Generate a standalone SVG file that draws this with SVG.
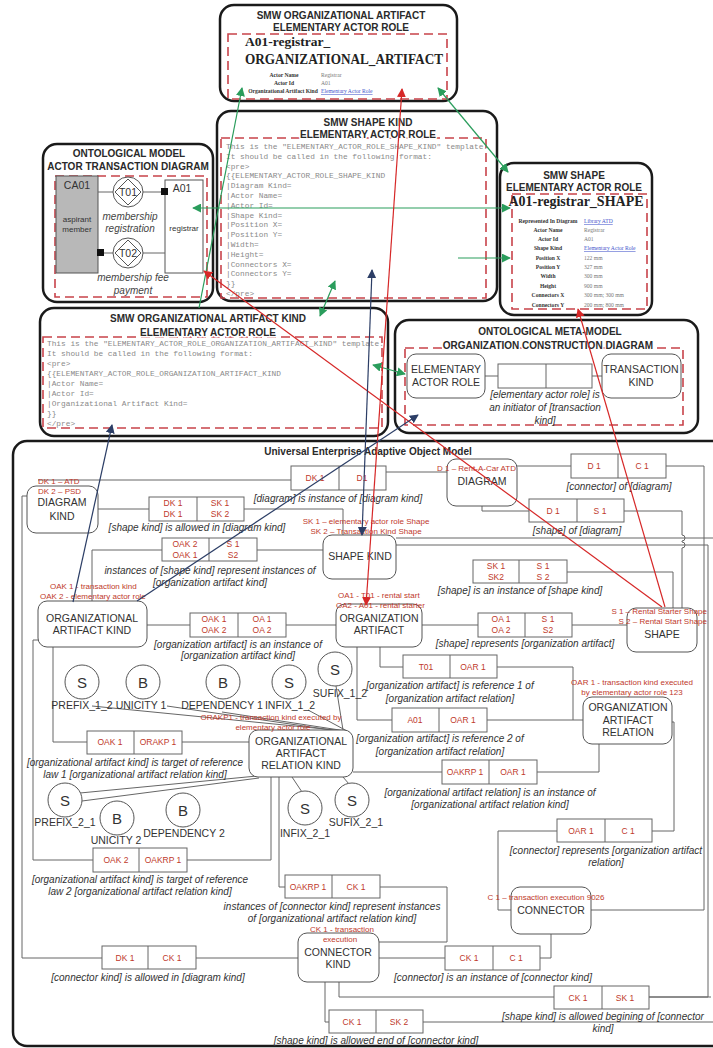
<svg xmlns="http://www.w3.org/2000/svg" width="713" height="1048" viewBox="0 0 713 1048">
<style>
.frame{fill:#fff;stroke:#1a1a1a;stroke-width:2.5}
.dash{fill:none;stroke:#c8434a;stroke-width:1.6;stroke-dasharray:9 5}
.ttl{font-family:"Liberation Sans",Arial,sans-serif;font-weight:bold;font-size:10px;fill:#2a2a2a;text-anchor:middle;paint-order:stroke;stroke:#fff;stroke-width:3px;stroke-linejoin:round}
.mono{font-family:"Liberation Mono","Courier New",monospace;font-size:7.8px;fill:#8a8a8a}
.node{fill:#fff;stroke:#555;stroke-width:1}
.nt{font-family:"Liberation Sans",Arial,sans-serif;font-size:10.5px;fill:#333;text-anchor:middle}
.rb{fill:#fff;stroke:#666;stroke-width:1}
.rt{font-family:"Liberation Sans",Arial,sans-serif;font-size:8.5px;fill:#c0392b;text-anchor:middle}
.lb{font-family:"Liberation Sans",Arial,sans-serif;font-size:10px;font-style:italic;fill:#333;text-anchor:middle}
.red{font-family:"Liberation Sans",Arial,sans-serif;font-size:8px;fill:#c0392b}
.cn{fill:none;stroke:#666;stroke-width:1}
.circ{fill:#fff;stroke:#555;stroke-width:1}
.ct{font-family:"Liberation Sans",Arial,sans-serif;font-size:15px;fill:#333;text-anchor:middle}
.cl{font-family:"Liberation Sans",Arial,sans-serif;font-size:10.5px;fill:#333;text-anchor:middle}
.g{stroke:#2a9d5c;stroke-width:1.2;fill:none}
.r{stroke:#d62828;stroke-width:1.2;fill:none}
.b{stroke:#2c3e66;stroke-width:1.2;fill:none}
.sb{font-family:"Liberation Serif","Times New Roman",serif;font-weight:bold;fill:#222}
.tk{font-family:"Liberation Serif","Times New Roman",serif;font-size:5.6px;font-weight:bold;fill:#333;text-anchor:middle}
.tv{font-family:"Liberation Serif","Times New Roman",serif;font-size:5.6px;fill:#777}
.lnk{fill:#4455cc;text-decoration:underline}
.sm{font-family:"Liberation Sans",Arial,sans-serif;font-size:8px;fill:#333;text-anchor:middle}
.it{font-family:"Liberation Sans",Arial,sans-serif;font-size:10px;font-style:italic;fill:#444;text-anchor:middle}
</style>
<defs>
<marker id="ag" viewBox="0 0 10 10" refX="9" refY="5" markerWidth="9" markerHeight="9" markerUnits="userSpaceOnUse" orient="auto-start-reverse"><path d="M0,0 L10,5 L0,10 z" fill="#2a9d5c"/></marker>
<marker id="ar" viewBox="0 0 10 10" refX="9" refY="5" markerWidth="9" markerHeight="9" markerUnits="userSpaceOnUse" orient="auto-start-reverse"><path d="M0,0 L10,5 L0,10 z" fill="#d62828"/></marker>
<marker id="ab" viewBox="0 0 10 10" refX="9" refY="5" markerWidth="9" markerHeight="9" markerUnits="userSpaceOnUse" orient="auto-start-reverse"><path d="M0,0 L10,5 L0,10 z" fill="#2c3e66"/></marker>
</defs>
<rect x="0" y="0" width="713" height="1048" fill="#fff"/>

<!-- SMW ORGANIZATIONAL ARTIFACT -->
<g id="smw-oa">
<rect class="frame" x="220" y="5" width="237" height="96" rx="14"/>
<rect class="dash" x="228" y="34" width="219" height="65"/>
<text class="ttl" x="341" y="19">SMW ORGANIZATIONAL ARTIFACT</text>
<text class="ttl" x="341" y="31">ELEMENTARY ACTOR ROLE</text>
<text class="sb" x="245" y="46" font-size="13.5">A01-registrar_</text>
<text class="sb" x="245" y="64" font-size="14" textLength="198" lengthAdjust="spacingAndGlyphs">ORGANIZATIONAL_ARTIFACT</text>
<text class="tk" x="284" y="77">Actor Name</text><text class="tv" x="321" y="77">Registrar</text>
<text class="tk" x="284" y="85">Actor Id</text><text class="tv" x="321" y="85">A01</text>
<text class="tk" x="283" y="93">Organizational Artifact Kind</text><text class="tv lnk" x="321" y="93">Elementary Actor Role</text>
</g>

<!-- ONTOLOGICAL MODEL -->
<g id="ontological-model">
<rect class="frame" x="43" y="144" width="170" height="158" rx="14"/>
<rect class="dash" x="55" y="176" width="152" height="121"/>
<text class="ttl" x="129" y="157">ONTOLOGICAL MODEL</text>
<text class="ttl" x="128" y="170">ACTOR TRANSACTION DIAGRAM</text>
<rect x="56" y="176" width="42" height="97" fill="#b8b8b8" stroke="#555"/>
<text class="nt" x="77" y="189" font-size="11">CA01</text>
<text class="sm" x="77" y="222">aspirant</text>
<text class="sm" x="77" y="232">member</text>
<rect x="165" y="180" width="38" height="93" fill="#fff" stroke="#555"/>
<text class="nt" x="182" y="192" font-size="11">A01</text>
<text class="sm" x="184" y="231">registrar</text>
<path class="cn" d="M98,192 H113 M143,192 H165 M104,253 H113 M143,253 H165"/>
<circle class="circ" cx="128" cy="192" r="15"/>
<polygon points="128,179 141,192 128,205 115,192" fill="none" stroke="#555"/>
<text class="nt" x="128" y="196">T01</text>
<circle class="circ" cx="128" cy="253" r="15"/>
<polygon points="128,240 141,253 128,266 115,253" fill="none" stroke="#555"/>
<text class="nt" x="128" y="257">T02</text>
<rect x="161" y="188" width="7" height="7" fill="#111"/>
<rect x="97" y="249" width="7" height="7" fill="#111"/>
<text class="it" x="130" y="220">membership</text>
<text class="it" x="130" y="232">registration</text>
<text class="it" x="133" y="281">membership fee</text>
<text class="it" x="133" y="294">payment</text>
</g>

<!-- SMW SHAPE KIND -->
<g id="smw-shape-kind">
<rect class="frame" x="217" y="111" width="280" height="190" rx="14"/>
<rect class="dash" x="221" y="138" width="265" height="160"/>
<text class="ttl" x="368" y="126">SMW SHAPE KIND</text>
<text class="ttl" x="368" y="138">ELEMENTARY ACTOR ROLE</text>
<text class="mono" x="226" y="149">This is the "ELEMENTARY_ACTOR_ROLE_SHAPE_KIND" template.</text>
<text class="mono" x="226" y="158.8">It should be called in the following format:</text>
<text class="mono" x="226" y="168.6">&lt;pre&gt;</text>
<text class="mono" x="226" y="178.4">{{ELEMENTARY_ACTOR_ROLE_SHAPE_KIND</text>
<text class="mono" x="226" y="188.2">|Diagram Kind=</text>
<text class="mono" x="226" y="198">|Actor Name=</text>
<text class="mono" x="226" y="207.8">|Actor Id=</text>
<text class="mono" x="226" y="217.6">|Shape Kind=</text>
<text class="mono" x="226" y="227.4">|Position X=</text>
<text class="mono" x="226" y="237.2">|Position Y=</text>
<text class="mono" x="226" y="247">|Width=</text>
<text class="mono" x="226" y="256.8">|Height=</text>
<text class="mono" x="226" y="266.6">|Connectors X=</text>
<text class="mono" x="226" y="276.4">|Connectors Y=</text>
<text class="mono" x="226" y="286.2">}}</text>
<text class="mono" x="226" y="296">&lt;/pre&gt;</text>
</g>

<!-- SMW SHAPE -->
<g id="smw-shape">
<rect class="frame" x="500" y="163" width="152" height="152" rx="14"/>
<rect class="dash" x="512" y="194" width="135" height="115"/>
<text class="ttl" x="574" y="179">SMW SHAPE</text>
<text class="ttl" x="574" y="191">ELEMENTARY ACTOR ROLE</text>
<text class="sb" x="576" y="206" font-size="14" text-anchor="middle">A01-registrar_SHAPE</text>
<text class="tk" x="548" y="223">Represented In Diagram</text><text class="tv lnk" x="584" y="223">Library ATD</text>
<text class="tk" x="548" y="232">Actor Name</text><text class="tv" x="584" y="232">Registrar</text>
<text class="tk" x="548" y="241">Actor Id</text><text class="tv" x="584" y="241">A01</text>
<text class="tk" x="548" y="250">Shape Kind</text><text class="tv lnk" x="584" y="250">Elementary Actor Role</text>
<text class="tk" x="548" y="260">Position X</text><text class="tv" x="584" y="260">122 mm</text>
<text class="tk" x="548" y="269">Position Y</text><text class="tv" x="584" y="269">327 mm</text>
<text class="tk" x="548" y="278">Width</text><text class="tv" x="584" y="278">300 mm</text>
<text class="tk" x="548" y="288">Height</text><text class="tv" x="584" y="288">900 mm</text>
<text class="tk" x="548" y="297">Connectors X</text><text class="tv" x="584" y="297">300 mm; 300 mm</text>
<text class="tk" x="548" y="307">Connectors Y</text><text class="tv" x="584" y="307">200 mm; 800 mm</text>
</g>

<!-- SMW ORGANIZATIONAL ARTIFACT KIND -->
<g id="smw-oak">
<rect class="frame" x="40" y="308" width="348" height="128" rx="14"/>
<rect class="dash" x="43" y="337" width="339" height="91"/>
<text class="ttl" x="208" y="322">SMW ORGANIZATIONAL ARTIFACT KIND</text>
<text class="ttl" x="208" y="336">ELEMENTARY ACTOR ROLE</text>
<text class="mono" x="47" y="346">This is the "ELEMENTARY_ACTOR_ROLE_ORGANIZATION_ARTIFACT_KIND" template.</text>
<text class="mono" x="47" y="356">It should be called in the following format:</text>
<text class="mono" x="47" y="366">&lt;pre&gt;</text>
<text class="mono" x="47" y="376">{{ELEMENTARY_ACTOR_ROLE_ORGANIZATION_ARTIFACT_KIND</text>
<text class="mono" x="47" y="386">|Actor Name=</text>
<text class="mono" x="47" y="396">|Actor Id=</text>
<text class="mono" x="47" y="406">|Organizational Artifact Kind=</text>
<text class="mono" x="47" y="416">}}</text>
<text class="mono" x="47" y="426">&lt;/pre&gt;</text>
</g>

<!-- ONTOLOGICAL META-MODEL -->
<g id="meta-model">
<rect class="frame" x="395" y="320" width="303" height="113" rx="14"/>
<rect class="dash" x="405" y="348" width="278" height="77"/>
<text class="ttl" x="550" y="335">ONTOLOGICAL META-MODEL</text>
<text class="ttl" x="548" y="349">ORGANIZATION CONSTRUCTION  DIAGRAM</text>
<path class="cn" d="M485,376 H498 M592,376 H602"/>
<rect class="node" x="407" y="354" width="78" height="44" rx="9"/>
<text class="nt" x="446" y="373">ELEMENTARY</text>
<text class="nt" x="446" y="386">ACTOR ROLE</text>
<rect class="rb" x="498" y="364" width="94" height="24"/>
<line class="cn" x1="546" y1="364" x2="546" y2="388"/>
<rect class="node" x="602" y="354" width="79" height="44" rx="9"/>
<text class="nt" x="641" y="373">TRANSACTION</text>
<text class="nt" x="641" y="386">KIND</text>
<text class="lb" x="545" y="398">[elementary actor role] is</text>
<text class="lb" x="545" y="411">an initiator of [transaction</text>
<text class="lb" x="545" y="424">kind]</text>
</g>

<!-- UNIVERSAL ENTERPRISE ADAPTIVE OBJECT MODEL -->
<g id="ueaom">
<rect class="frame" x="13" y="441" width="730" height="605" rx="14"/>
<text class="ttl" x="368" y="455" font-size="10.5">Universal Enterprise Adaptive Object Model</text>
</g>

<g id="connectors">
<path class="cn" d="M38,480 H291"/>
<path class="cn" d="M386,472 H447"/>
<path class="cn" d="M27,496 H22 V958 H102"/>
<path class="cn" d="M98,509 H149"/>
<path class="cn" d="M244,509 H343 V535"/>
<path class="cn" d="M162,550 H92 V601"/>
<path class="cn" d="M257,550 H323"/>
<path class="cn" d="M517,466 H571"/>
<path class="cn" d="M666,466 H704 V910 H591"/>
<path class="cn" d="M482,506 V511 H529"/>
<path class="cn" d="M624,511 H682 V535 a3,3 0 0 1 0,6 V542 a3,3 0 0 1 0,6 V608"/>
<path class="cn" d="M396,538 H713"/>
<path class="cn" d="M396,545 H708 V997 H649"/>
<path class="cn" d="M567,572 H673 V608"/>
<path class="cn" d="M147,625 H190 M286,625 H336"/>
<path class="cn" d="M422,625 H478 M572,625 H627"/>
<path class="cn" d="M380,647 V667 H403"/>
<path class="cn" d="M497,667 H573 V720"/>
<path class="cn" d="M357,647 V720 H392 M487,720 H583"/>
<path class="cn" d="M353,772 H442 M537,772 H599 V744"/>
<path class="cn" d="M53,647 V742 H87 M182,742 H249"/>
<path class="cn" d="M38,640 H33 V860 H93"/>
<path class="cn" d="M187,860 H271 V777"/>
<path class="cn" d="M279,777 V887 H285"/>
<path class="cn" d="M380,887 H447 V942 H379"/>
<path class="cn" d="M196,958 H298"/>
<path class="cn" d="M379,958 H445 M540,958 H551 V934"/>
<path class="cn" d="M672,722 H674 V831 H652 M557,831 H498 V910 H511"/>
<path class="cn" d="M339,982 V997 H554 M649,997 H711"/>
<path class="cn" d="M325,982 V1022 H329 M423,1022 H713"/>
<path class="cn" d="M92,706 L345,731 M167,706 L345,732 M222,712 L346,731 M308,710 L347,731 M336,686 L343,730"/>
<path class="cn" d="M257,776 L80,793 M259,778 L82,801 M292,777 L302,792 M343,777 L349,784"/>
</g>

<!-- nodes -->
<g id="diagram-kind">
<rect class="node" x="27" y="486" width="71" height="47" rx="9"/>
<text class="nt" x="62" y="506">DIAGRAM</text>
<text class="nt" x="62" y="520">KIND</text>
<text class="red" x="38" y="484">DK 1 – ATD</text>
<text class="red" x="38" y="494">DK 2 – PSD</text>
</g>
<g id="diagram">
<rect class="node" x="447" y="459" width="70" height="47" rx="9"/>
<text class="nt" x="482" y="485">DIAGRAM</text>
<text class="red" x="437" y="471">D 1 – Rent-A-Car ATD</text>
</g>
<g id="shape-kind">
<rect class="node" x="323" y="535" width="73" height="44" rx="9"/>
<text class="nt" x="360" y="560">SHAPE KIND</text>
<text class="red" x="366" y="524" text-anchor="middle">SK 1 – elementary actor role Shape</text>
<text class="red" x="366" y="534" text-anchor="middle">SK 2 – Transaction Kind Shape</text>
</g>
<g id="organizational-artifact-kind">
<rect class="node" x="38" y="601" width="109" height="46" rx="9"/>
<text class="nt" x="92" y="622">ORGANIZATIONAL</text>
<text class="nt" x="92" y="634">ARTIFACT KIND</text>
<text class="red" x="50" y="589">OAK 1 - transaction kind</text>
<text class="red" x="40" y="599">OAK 2 - elementary actor role</text>
</g>
<g id="organization-artifact">
<rect class="node" x="336" y="604" width="86" height="43" rx="9"/>
<text class="nt" x="379" y="622">ORGANIZATION</text>
<text class="nt" x="379" y="634">ARTIFACT</text>
<text class="red" x="338" y="598">OA1 - T01 - rental start</text>
<text class="red" x="336" y="608">OA2 - A01 - rental starter</text>
</g>
<g id="shape">
<rect class="node" x="627" y="608" width="70" height="44" rx="9"/>
<text class="nt" x="662" y="638">SHAPE</text>
<text class="red" x="707" y="614" text-anchor="end">S 1 – Rental Starter Shape</text>
<text class="red" x="707" y="624" text-anchor="end">S 2 – Rental Start Shape</text>
</g>
<g id="organization-artifact-relation">
<rect class="node" x="583" y="697" width="89" height="47" rx="9"/>
<text class="nt" x="628" y="711">ORGANIZATION</text>
<text class="nt" x="628" y="724">ARTIFACT</text>
<text class="nt" x="628" y="736">RELATION</text>
<text class="red" x="632" y="685" text-anchor="middle">OAR 1 - transaction kind executed</text>
<text class="red" x="632" y="695" text-anchor="middle">by elementary actor role 123</text>
</g>
<g id="organizational-artifact-relation-kind">
<rect class="node" x="249" y="730" width="104" height="47" rx="9"/>
<text class="nt" x="301" y="745">ORGANIZATIONAL</text>
<text class="nt" x="301" y="757">ARTIFACT</text>
<text class="nt" x="301" y="769">RELATION KIND</text>
<text class="red" x="271" y="720" text-anchor="middle">ORAKP1 - transaction kind executed by</text>
<text class="red" x="273" y="730" text-anchor="middle">elementary actor role</text>
</g>
<g id="connector-kind">
<rect class="node" x="298" y="933" width="81" height="49" rx="9"/>
<text class="nt" x="338" y="956">CONNECTOR</text>
<text class="nt" x="338" y="968">KIND</text>
<text class="red" x="342" y="932" text-anchor="middle">CK 1 - transaction</text>
<text class="red" x="340" y="942" text-anchor="middle">execution</text>
</g>
<g id="connector">
<rect class="node" x="511" y="887" width="80" height="47" rx="9"/>
<text class="nt" x="551" y="914">CONNECTOR</text>
<text class="red" x="546" y="900" text-anchor="middle">C 1 – transaction execution 9026</text>
</g>

<!-- circles -->
<g id="prefix-1-2"><circle class="circ" cx="82" cy="682" r="17"/><text class="ct" x="82" y="688">S</text><text class="cl" x="82" y="709">PREFIX_1_2</text></g>
<g id="unicity-1"><circle class="circ" cx="143" cy="682" r="17"/><text class="ct" x="143" y="688">B</text><text class="cl" x="141" y="709">UNICITY 1</text></g>
<g id="dependency-1"><circle class="circ" cx="223" cy="682" r="17"/><text class="ct" x="223" y="688">B</text><text class="cl" x="222" y="709">DEPENDENCY 1</text></g>
<g id="infix-1-2"><circle class="circ" cx="289" cy="682" r="17"/><text class="ct" x="289" y="688">S</text><text class="cl" x="290" y="709">INFIX_1_2</text></g>
<g id="sufix-1-2"><circle class="circ" cx="335" cy="669" r="17"/><text class="ct" x="335" y="675">S</text><text class="cl" x="340" y="697">SUFIX_1_2</text></g>
<g id="prefix-2-1"><circle class="circ" cx="65" cy="800" r="17"/><text class="ct" x="65" y="806">S</text><text class="cl" x="65" y="826">PREFIX_2_1</text></g>
<g id="unicity-2"><circle class="circ" cx="117" cy="818" r="17"/><text class="ct" x="117" y="824">B</text><text class="cl" x="116" y="844">UNICITY 2</text></g>
<g id="dependency-2"><circle class="circ" cx="183" cy="810" r="17"/><text class="ct" x="183" y="816">B</text><text class="cl" x="184" y="837">DEPENDENCY 2</text></g>
<g id="infix-2-1"><circle class="circ" cx="305" cy="808" r="17"/><text class="ct" x="305" y="814">S</text><text class="cl" x="305" y="837">INFIX_2_1</text></g>
<g id="sufix-2-1"><circle class="circ" cx="352" cy="800" r="17"/><text class="ct" x="352" y="806">S</text><text class="cl" x="356" y="826">SUFIX_2_1</text></g>

<!-- relation boxes -->
<g id="rel-diagram-instance"><rect class="rb" x="291" y="466" width="95" height="24"/><line class="cn" x1="339" y1="466" x2="339" y2="490"/><text class="rt" x="315" y="481">DK 1</text><text class="rt" x="362" y="481">D1</text><text class="lb" x="338" y="502">[diagram] is instance of [diagram kind]</text></g>
<g id="rel-shape-kind-allowed"><rect class="rb" x="149" y="497" width="95" height="24"/><line class="cn" x1="197" y1="497" x2="197" y2="521"/><text class="rt" x="173" y="506">DK 1</text><text class="rt" x="173" y="517">DK 1</text><text class="rt" x="220" y="506">SK 1</text><text class="rt" x="220" y="517">SK 2</text><text class="lb" x="197" y="531">[shape kind] is allowed in [diagram kind]</text></g>
<g id="rel-shape-kind-represent"><rect class="rb" x="162" y="538" width="95" height="23"/><line class="cn" x1="209" y1="538" x2="209" y2="561"/><text class="rt" x="185" y="547">OAK 2</text><text class="rt" x="185" y="558">OAK 1</text><text class="rt" x="233" y="547">S 1</text><text class="rt" x="233" y="558">S2</text><text class="lb" x="210" y="574">instances of [shape kind] represent instances of</text><text class="lb" x="210" y="586">[organization artifact kind]</text></g>
<g id="rel-oa-instance"><rect class="rb" x="190" y="613" width="96" height="24"/><line class="cn" x1="238" y1="613" x2="238" y2="637"/><text class="rt" x="214" y="622">OAK 1</text><text class="rt" x="214" y="633">OAK 2</text><text class="rt" x="262" y="622">OA 1</text><text class="rt" x="262" y="633">OA 2</text><text class="lb" x="238" y="648">[organization artifact] is an instance of</text><text class="lb" x="238" y="659">[organization artifact kind]</text></g>
<g id="rel-shape-instance"><rect class="rb" x="473" y="560" width="94" height="23"/><line class="cn" x1="519" y1="560" x2="519" y2="583"/><text class="rt" x="496" y="569">SK 1</text><text class="rt" x="496" y="580">SK2</text><text class="rt" x="543" y="569">S 1</text><text class="rt" x="543" y="580">S 2</text><text class="lb" x="520" y="594">[shape] is an instance of [shape kind]</text></g>
<g id="rel-connector-of-diagram"><rect class="rb" x="571" y="454" width="95" height="24"/><line class="cn" x1="618" y1="454" x2="618" y2="478"/><text class="rt" x="594" y="469">D 1</text><text class="rt" x="642" y="469">C 1</text><text class="lb" x="619" y="490">[connector] of [diagram]</text></g>
<g id="rel-shape-of-diagram"><rect class="rb" x="529" y="499" width="95" height="23"/><line class="cn" x1="577" y1="499" x2="577" y2="522"/><text class="rt" x="553" y="514">D 1</text><text class="rt" x="600" y="514">S 1</text><text class="lb" x="577" y="534">[shape] of [diagram]</text></g>
<g id="rel-shape-represents"><rect class="rb" x="478" y="613" width="94" height="24"/><line class="cn" x1="525" y1="613" x2="525" y2="637"/><text class="rt" x="501" y="622">OA 1</text><text class="rt" x="501" y="633">OA 2</text><text class="rt" x="548" y="622">S 1</text><text class="rt" x="548" y="633">S2</text><text class="lb" x="525" y="647">[shape] represents [organization artifact]</text></g>
<g id="rel-reference-1"><rect class="rb" x="403" y="655" width="94" height="23"/><line class="cn" x1="450" y1="655" x2="450" y2="678"/><text class="rt" x="426" y="670">T01</text><text class="rt" x="473" y="670">OAR 1</text><text class="lb" x="450" y="689">[organization artifact] is reference 1 of</text><text class="lb" x="450" y="702">[organization artifact relation]</text></g>
<g id="rel-reference-2"><rect class="rb" x="392" y="708" width="95" height="24"/><line class="cn" x1="439" y1="708" x2="439" y2="732"/><text class="rt" x="415" y="723">A01</text><text class="rt" x="463" y="723">OAR 1</text><text class="lb" x="440" y="742">[organization artifact] is reference 2 of</text><text class="lb" x="440" y="755">[organization artifact relation]</text></g>
<g id="rel-oar-instance"><rect class="rb" x="442" y="760" width="95" height="24"/><line class="cn" x1="489" y1="760" x2="489" y2="784"/><text class="rt" x="465" y="775">OAKRP 1</text><text class="rt" x="513" y="775">OAR 1</text><text class="lb" x="490" y="796">[organizational artifact relation] is an instance of</text><text class="lb" x="490" y="808">[organizational artifact relation kind]</text></g>
<g id="rel-target-law-1"><rect class="rb" x="87" y="731" width="95" height="23"/><line class="cn" x1="134" y1="731" x2="134" y2="754"/><text class="rt" x="110" y="745">OAK 1</text><text class="rt" x="158" y="745">ORAKP 1</text><text class="lb" x="135" y="766">[organizational artifact kind] is target of reference</text><text class="lb" x="135" y="778">law 1 [organizational artifact relation kind]</text></g>
<g id="rel-target-law-2"><rect class="rb" x="93" y="848" width="94" height="24"/><line class="cn" x1="139" y1="848" x2="139" y2="872"/><text class="rt" x="116" y="863">OAK 2</text><text class="rt" x="163" y="863">OAKRP 1</text><text class="lb" x="140" y="883">[organizational artifact kind] is target of reference</text><text class="lb" x="140" y="895">law 2 [organizational artifact relation kind]</text></g>
<g id="rel-connector-kind-represent"><rect class="rb" x="285" y="875" width="95" height="23"/><line class="cn" x1="332" y1="875" x2="332" y2="898"/><text class="rt" x="308" y="890">OAKRP 1</text><text class="rt" x="356" y="890">CK 1</text><text class="lb" x="332" y="910">instances of [connector kind] represent instances</text><text class="lb" x="332" y="922">of [organizational artifact relation kind]</text></g>
<g id="rel-connector-kind-allowed"><rect class="rb" x="102" y="946" width="94" height="23"/><line class="cn" x1="148" y1="946" x2="148" y2="969"/><text class="rt" x="125" y="961">DK 1</text><text class="rt" x="172" y="961">CK 1</text><text class="lb" x="148" y="981">[connector kind] is allowed in [diagram kind]</text></g>
<g id="rel-connector-instance"><rect class="rb" x="445" y="946" width="95" height="24"/><line class="cn" x1="493" y1="946" x2="493" y2="970"/><text class="rt" x="469" y="961">CK 1</text><text class="rt" x="516" y="961">C 1</text><text class="lb" x="493" y="981">[connector] is an instance of [connector kind]</text></g>
<g id="rel-connector-represents"><rect class="rb" x="557" y="819" width="95" height="23"/><line class="cn" x1="605" y1="819" x2="605" y2="842"/><text class="rt" x="581" y="834">OAR 1</text><text class="rt" x="628" y="834">C 1</text><text class="lb" x="606" y="854">[connector] represents [organization artifact</text><text class="lb" x="606" y="866">relation]</text></g>
<g id="rel-allowed-begining"><rect class="rb" x="554" y="986" width="95" height="23"/><line class="cn" x1="602" y1="986" x2="602" y2="1009"/><text class="rt" x="578" y="1001">CK 1</text><text class="rt" x="625" y="1001">SK 1</text><text class="lb" x="603" y="1020">[shape kind] is allowed begining of [connector</text><text class="lb" x="603" y="1032">kind]</text></g>
<g id="rel-allowed-end"><rect class="rb" x="329" y="1010" width="94" height="23"/><line class="cn" x1="376" y1="1010" x2="376" y2="1033"/><text class="rt" x="352" y="1025">CK 1</text><text class="rt" x="399" y="1025">SK 2</text><text class="lb" x="376" y="1044">[shape kind] is allowed end of [connector kind]</text></g>

<!-- cross-model links -->
<g id="links">
<path class="g" d="M193,208 H510" marker-start="url(#ag)" marker-end="url(#ag)"/>
<path class="g" d="M458,258 H510" marker-end="url(#ag)"/>
<path class="g" d="M438,88 L508,172" marker-start="url(#ag)" marker-end="url(#ag)"/>
<path class="g" d="M242,88 L199,308" marker-start="url(#ag)"/>
<path class="g" d="M335,281 L320,316" marker-start="url(#ag)" marker-end="url(#ag)"/>
<path class="g" d="M373,365 L405,374" marker-start="url(#ag)" marker-end="url(#ag)"/>
<path class="r" d="M402,89 L366,605" marker-start="url(#ar)" marker-end="url(#ar)"/>
<path class="r" d="M204,271 L662,607" marker-start="url(#ar)"/>
<path class="r" d="M578,309 L665,607" marker-start="url(#ar)"/>
<path class="b" d="M372,270 L362,535" marker-start="url(#ab)" marker-end="url(#ab)"/>
<path class="b" d="M112,425 L73,602" marker-start="url(#ab)"/>
<path class="b" d="M418,415 L137,601" stroke="#4a5a78" marker-start="url(#ab)"/>
</g>
</svg>
